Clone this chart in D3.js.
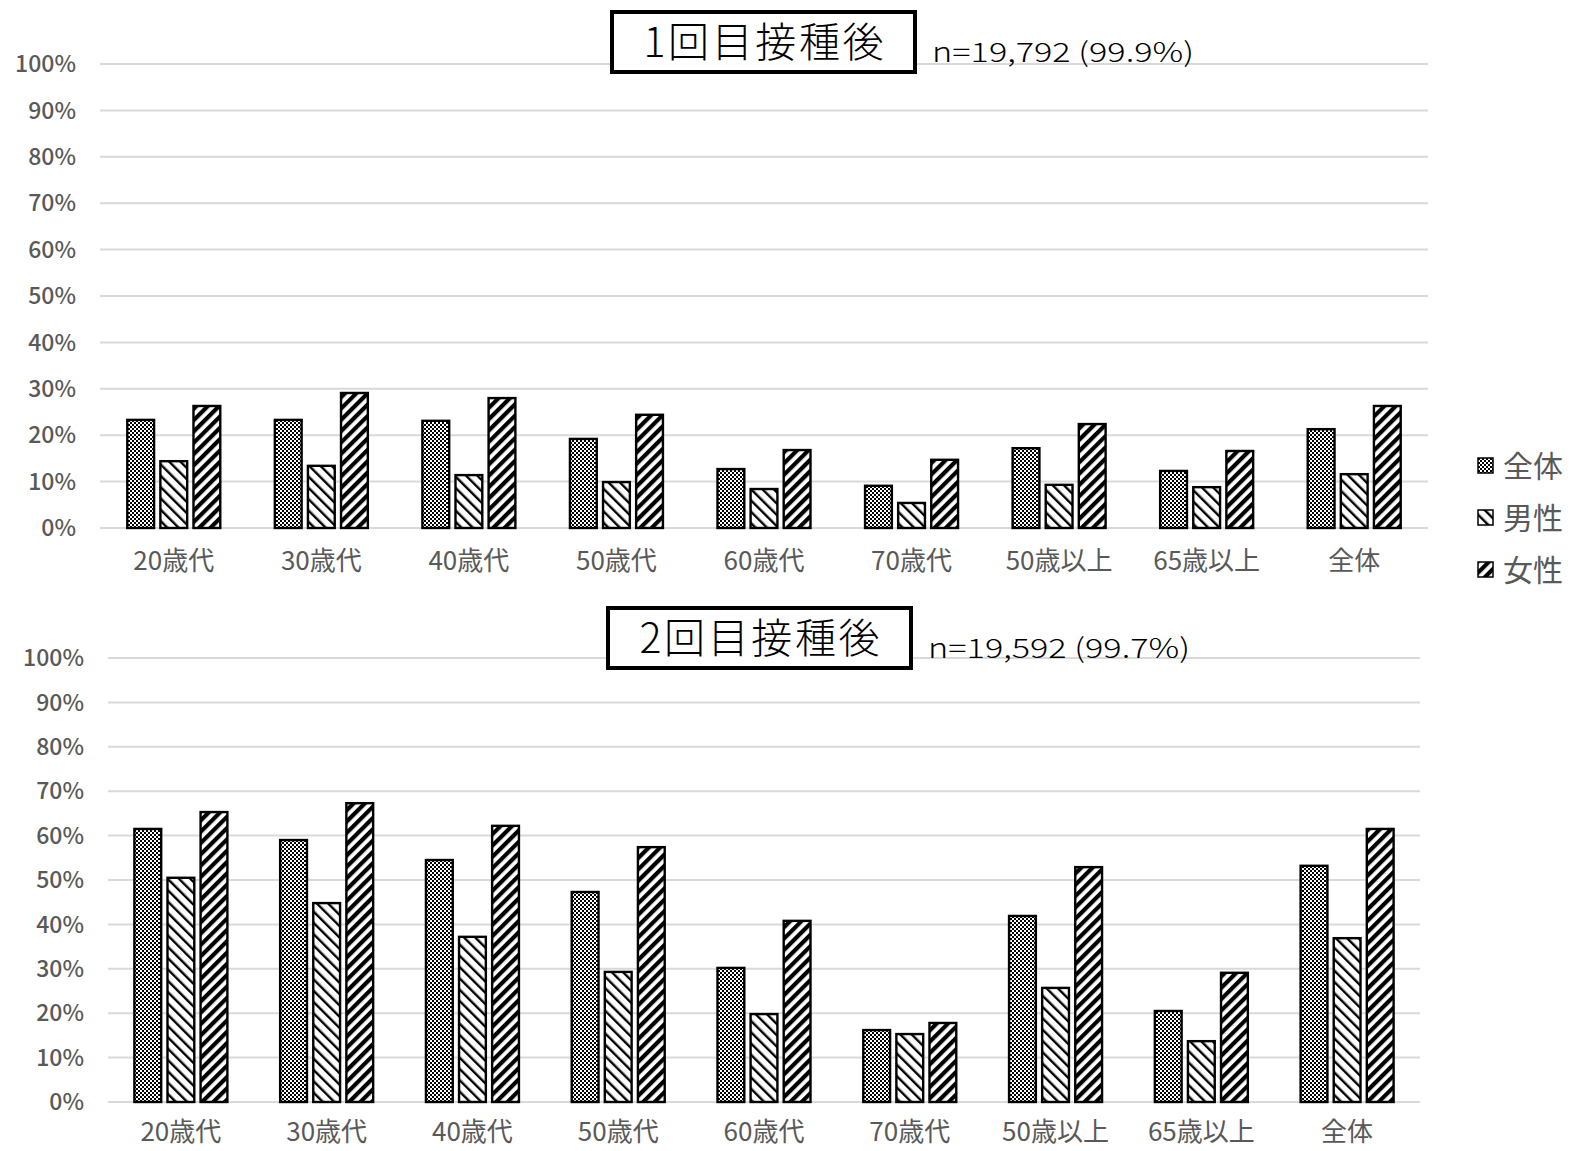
<!DOCTYPE html>
<html><head><meta charset="utf-8">
<script src="https://cdn.jsdelivr.net/npm/d3@7"></script>
<style>body{margin:0;background:#fff}svg{display:block}</style>
</head><body>
<script>
const categories = ["20歳代","30歳代","40歳代","50歳代","60歳代","70歳代","50歳以上","65歳以上","全体"];
const seriesNames = ["全体","男性","女性"];
const dose1Total  = [23.3,23.3,23.1,19.2,12.7,9.1,17.2,12.3,21.3];
const dose1Male   = [14.4,13.4,11.4,9.9,8.4,5.4,9.3,8.8,11.6];
const dose1Female = [26.3,29.1,28.0,24.4,16.8,14.7,22.4,16.6,26.3];
const dose2Total  = [61.5,59.0,54.5,47.3,30.2,16.2,41.9,20.5,53.2];
const dose2Male   = [50.5,44.8,37.2,29.3,19.8,15.3,25.7,13.7,36.9];
const dose2Female = [65.3,67.3,62.2,57.4,40.8,17.8,52.9,29.1,61.5];
const yTicks = [0,10,20,30,40,50,60,70,80,90,100];
const titles = ["1回目接種後","2回目接種後"];
const nLabels = ["n=19,792 (99.9%)","n=19,592 (99.7%)"];

const W=1571,H=1151;
const svg=d3.select("body").append("svg").attr("width",W).attr("height",H);
const defs=svg.append("defs");
const p1=defs.append("pattern").attr("id","pat0").attr("patternUnits","userSpaceOnUse").attr("width",4).attr("height",4);
p1.append("rect").attr("width",4).attr("height",4).attr("fill","#fff");
p1.append("rect").attr("width",2).attr("height",2).attr("fill","#000");
p1.append("rect").attr("x",2).attr("y",2).attr("width",2).attr("height",2).attr("fill","#000");
const p2=defs.append("pattern").attr("id","pat1").attr("patternUnits","userSpaceOnUse").attr("width",8).attr("height",8).attr("patternTransform","rotate(-45)");
p2.append("rect").attr("width",8).attr("height",8).attr("fill","#fff");
p2.append("rect").attr("width",2.4).attr("height",8).attr("fill","#000");
const p3=defs.append("pattern").attr("id","pat2").attr("patternUnits","userSpaceOnUse").attr("width",8).attr("height",8).attr("patternTransform","rotate(45)");
p3.append("rect").attr("width",8).attr("height",8).attr("fill","#fff");
p3.append("rect").attr("width",4.2).attr("height",8).attr("fill","#000");

const font="'Noto Sans CJK JP','Noto Sans',sans-serif";

function drawChart(cfg){
  const {x0,x1,yTop,yBot,data,title,nLabel,box,labelX,catY}=cfg;
  const y=d3.scaleLinear().domain([0,100]).range([yBot,yTop]);
  const x=d3.scaleBand().domain(categories).range([x0,x1]);
  const inner=d3.scaleBand().domain(seriesNames).range([0,93]).paddingInner(0.19);
  const g=svg.append("g");
  g.selectAll("line.grid").data(yTicks).join("line")
    .attr("x1",x0).attr("x2",x1).attr("y1",d=>y(d)).attr("y2",d=>y(d))
    .attr("stroke","#d9d9d9").attr("stroke-width",2);
  g.selectAll("text.yl").data(yTicks).join("text")
    .attr("x",labelX).attr("y",d=>y(d)).attr("dy","0.36em").attr("text-anchor","end")
    .attr("font-family",font).attr("font-size",23).attr("font-weight",500).attr("fill","#595959").text(d=>d+"%");
  categories.forEach((c,i)=>{
    const gx=x(c)+x.bandwidth()/2-46.5;
    seriesNames.forEach((s,j)=>{
      const v=data[j][i];
      g.append("rect").attr("x",gx+inner(s)).attr("y",y(v)).attr("width",inner.bandwidth()).attr("height",y(0)-y(v))
        .attr("fill",`url(#pat${j})`).attr("stroke","#000").attr("stroke-width",2.4);
    });
    g.append("text").attr("x",x(c)+x.bandwidth()/2).attr("y",catY).attr("text-anchor","middle")
      .attr("font-family",font).attr("font-size",26).attr("fill","#595959").text(c);
  });
  g.append("rect").attr("x",box[0]).attr("y",box[1]).attr("width",box[2]).attr("height",box[3])
    .attr("fill","#fff").attr("stroke","#000").attr("stroke-width",4);
  g.append("text").attr("x",box[0]+box[2]/2).attr("y",box[1]+box[3]/2).attr("dy","0.36em").attr("text-anchor","middle")
    .attr("font-family",font).attr("font-size",41).attr("font-weight",300).attr("fill","#000")
    .attr("textLength",240).attr("lengthAdjust","spacing").text(title);
  g.append("text").attr("x",box[0]+box[2]+17).attr("y",box[1]+50)
    .attr("font-family",font).attr("font-size",27).attr("font-weight",300).attr("fill","#000")
    .attr("textLength",262).attr("lengthAdjust","spacingAndGlyphs").text(nLabel);
}

drawChart({x0:100,x1:1428,yTop:64,yBot:528,data:[dose1Total,dose1Male,dose1Female],
  title:titles[0],nLabel:nLabels[0],box:[612,12,303,60],labelX:76,catY:570});
drawChart({x0:108,x1:1420,yTop:658,yBot:1102,data:[dose2Total,dose2Male,dose2Female],
  title:titles[1],nLabel:nLabels[1],box:[608,608,303,60],labelX:84,catY:1141});

const lg=svg.append("g");
seriesNames.forEach((s,j)=>{
  const yy=466+j*52;
  lg.append("rect").attr("x",1478).attr("y",yy-8).attr("width",15).attr("height",15)
    .attr("fill",`url(#pat${j})`).attr("stroke","#000").attr("stroke-width",1.5);
  lg.append("text").attr("x",1503).attr("y",yy).attr("dy","0.36em")
    .attr("font-family",font).attr("font-size",30).attr("fill","#595959").text(s);
});
</script>
</body></html>
